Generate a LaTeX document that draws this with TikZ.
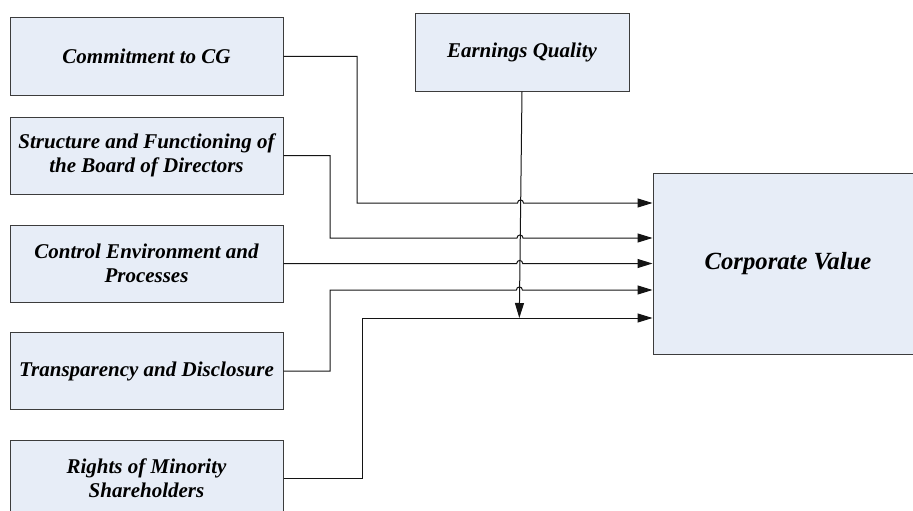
\documentclass[tikz,border=0pt]{standalone}
\usepackage{fontspec}
\setmainfont{Liberation Serif}
\usetikzlibrary{arrows.meta}
\definecolor{boxfill}{RGB}{231,237,247}
\definecolor{boxline}{RGB}{60,60,60}
\definecolor{connline}{RGB}{20,20,20}
\tikzset{
  box/.style={draw=boxline, fill=boxfill, line width=1pt, align=center,
    font=\fontsize{21}{24}\selectfont\bfseries\itshape, inner sep=2pt},
  leftbox/.style={box, minimum width=273pt, minimum height=77pt},
  conn/.style={draw=connline, line width=1pt},
  arr/.style={conn, -{Triangle[length=15pt,width=9pt]}}
}
\begin{document}
\begin{tikzpicture}[x=1pt,y=-1pt]
\clip (0,0) rectangle (913,511);
\fill[white] (0,0) rectangle (913,511);
\node[leftbox] (b1) at (146.5,56.5) {Commitment to CG};
\node[leftbox] (b2) at (146.5,155.5) {Structure and Functioning of\\the Board of Directors};
\node[leftbox] (b3) at (146.5,263.5) {Control Environment and\\Processes};
\node[leftbox] (b4) at (146.5,371) {Transparency and Disclosure};
\node[leftbox] (b5) at (146.5,478.5) {Rights of Minority\\Shareholders};
\node[box, minimum width=214pt, minimum height=77pt] (eq) at (522,52.5) {Earnings Quality};
\node[box, minimum width=270pt, minimum height=181pt,
  font=\fontsize{24.7}{28}\selectfont\bfseries\itshape] (cv) at (788,263.5) {Corporate Value};
\coordinate (eqend) at (519.3,318);
% connectors
\draw[arr] (b1.east) -| (357,203) -- (517.5,203) .. controls (517.5,199) and (523.5,199) .. (523.5,203) -- (cv.west |- 0,203);
\draw[arr] (b2.east) -| (330,238) -- (517,238) .. controls (517,234) and (523,234) .. (523,238) -- (cv.west |- 0,238);
\draw[arr] (b3.east) -- (516.7,263.5) .. controls (516.7,259.5) and (522.7,259.5) .. (522.7,263.5) -- (cv.west |- 0,263.5);
\draw[arr] (b4.east) -| (330,290) -- (516.4,290) .. controls (516.4,286) and (522.4,286) .. (522.4,290) -- (cv.west |- 0,290);
\draw[arr] (b5.east) -| (362,318) -- (cv.west |- 0,318);
\draw[arr] (eq.south) -- (eqend);
\end{tikzpicture}
\end{document}
